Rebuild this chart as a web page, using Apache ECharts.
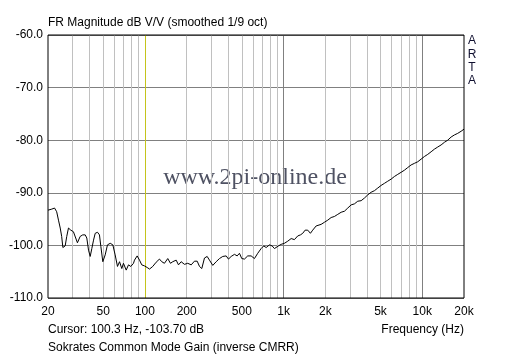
<!DOCTYPE html>
<html>
<head>
<meta charset="utf-8">
<script src="https://cdn.jsdelivr.net/npm/echarts@6/dist/echarts.min.js"></script>
<style>html,body{margin:0;padding:0;background:#fff}#c{width:512px;height:358px}</style>
</head>
<body>
<div id="c"></div>
<script>
const freqHz = [20, 21.3, 22.3, 23.1, 23.8, 24.5, 25.1, 25.6, 26.6, 27.3,
  28.1, 29.2, 30.5, 31.4, 32.6, 34.1, 35.6, 37.1, 38.1, 39.2,
  40.3, 41.4, 42.6, 43.8, 45.5, 47.0, 48.1, 49.7, 51.7, 53.7,
  56.2, 58.7, 61.0, 63.4, 65.6, 68.1, 70.0, 73.3, 76.1, 79.1,
  82.7, 84.1, 87.9, 91.4, 94.9, 99.3, 103.8, 107.9, 113.9, 120.5,
  127.3, 132.3, 138.3, 146.1, 152.8, 158.8, 168.0, 174.6, 182.5, 192.8,
  203.6, 215.6, 227.6, 238.2, 247.5, 257.1, 268.8, 281.1, 292.0, 308.6,
  326.5, 344.9, 364.3, 385.4, 400.4, 418.8, 442.4, 462.6, 480.6, 499.4,
  522.2, 551.4, 583.4, 616.4, 651.1, 688.8, 719.3, 748.7, 790.8, 826.8,
  859.1, 883.8, 918.2, 960.2, 1014, 1071, 1134, 1197, 1265, 1323,
  1374, 1430, 1493, 1561, 1622, 1717, 1865, 1970, 2082, 2202,
  2326, 2458, 2600, 2747, 2902, 3069, 3243, 3426, 3624, 3828,
  4044, 4277, 4519, 4774, 5050, 5336, 5636, 5964, 6300, 6654,
  7040, 7438, 7857, 8312, 8780, 9276, 9813, 10364, 10948, 11584,
  12237, 12927, 13676, 14447, 15259, 16144, 17053, 18012, 19059, 20000];
const magDb = [-93.3, -93.1, -92.9, -93.6, -95.2, -96.7, -98.3, -100.4, -100.1, -98.3,
  -96.7, -97.1, -97.4, -97.7, -99.5, -98.3, -98.0, -98.0, -98.6, -100.9,
  -102.1, -100.6, -99.0, -97.7, -97.5, -98.0, -100.2, -103.1, -101.8, -99.9,
  -99.6, -99.9, -101.8, -104.0, -103.1, -104.4, -103.4, -104.7, -103.7, -104.0,
  -103.4, -102.8, -102.0, -102.8, -103.7, -103.9, -104.2, -104.5, -104.0, -103.2,
  -102.6, -103.1, -103.4, -102.5, -103.4, -103.1, -102.8, -103.7, -103.1, -103.6,
  -103.4, -103.7, -103.0, -103.0, -104.0, -104.4, -102.4, -102.1, -102.8, -103.8,
  -103.1, -102.5, -102.1, -102.0, -102.6, -102.1, -101.7, -102.0, -101.5, -102.5,
  -102.6, -102.0, -102.0, -102.5, -101.5, -100.6, -100.1, -100.4, -99.9, -100.1,
  -100.6, -100.7, -100.1, -99.8, -99.6, -99.2, -98.7, -98.9, -98.2, -98.0,
  -97.7, -97.1, -97.1, -97.7, -97.1, -96.3, -96.0, -95.6, -95.2, -94.7,
  -94.5, -94.1, -93.7, -93.5, -92.9, -92.3, -92.1, -91.6, -91.5, -91.0,
  -90.4, -89.9, -89.6, -89.1, -88.6, -88.2, -87.8, -87.4, -86.9, -86.5,
  -86.1, -85.7, -85.2, -84.7, -84.4, -84.1, -83.6, -83.1, -82.7, -82.2,
  -81.7, -81.3, -80.9, -80.4, -80.0, -79.4, -79.0, -78.7, -78.3, -77.9];
const xTickLabels = [20, 50, 100, 200, 500, 1000, 2000, 5000, 10000, 20000];
const gridFreqs = [30, 40, 50, 60, 70, 80, 90, 100, 200, 300, 400, 500, 600, 700, 800, 900,
  1000, 2000, 3000, 4000, 5000, 6000, 7000, 8000, 9000, 10000];
const majorFreqs = [1000, 10000];
const cursorFreq = 100;
const titleText = 'FR Magnitude dB V/V (smoothed 1/9 oct)';
const cursorText = 'Cursor: 100.3 Hz, -103.70 dB';
const xAxisName = 'Frequency (Hz)';
const footerText = 'Sokrates Common Mode Gain (inverse CMRR)';
const watermark = 'www.2pi-online.de';
const brand = ['A', 'R', 'T', 'A'];

const FONT = '12px "Liberation Sans", Arial, sans-serif';
const chart = echarts.init(document.getElementById('c'), null, {renderer: 'canvas'});

const gridLines = gridFreqs.map(f => ({
  xAxis: f,
  lineStyle: {
    color: f === cursorFreq ? '#c4c41c' : (majorFreqs.includes(f) ? '#808080' : '#c0c0c0'),
    width: 1, type: 'solid'
  }
}));

const graphics = [
  {type: 'text', x: 48, y: 23, style: {text: titleText, font: FONT, fill: '#000', align: 'left', verticalAlign: 'middle'}},
  {type: 'text', x: 48, y: 330, style: {text: cursorText, font: FONT, fill: '#000', align: 'left', verticalAlign: 'middle'}},
  {type: 'text', x: 464, y: 330, style: {text: xAxisName, font: FONT, fill: '#000', align: 'right', verticalAlign: 'middle'}},
  {type: 'text', x: 48, y: 348, style: {text: footerText, font: FONT, fill: '#000', align: 'left', verticalAlign: 'middle'}},
  {type: 'text', x: 255, y: 178, z: 0, style: {text: watermark, font: '24px "Liberation Serif", "Times New Roman", serif', fill: '#4f5263', align: 'center', verticalAlign: 'middle'}}
];
brand.forEach((ch, i) => {
  graphics.push({type: 'text', x: 472, y: 41 + i * 13.3, style: {text: ch, font: FONT, fill: '#101030', align: 'center', verticalAlign: 'middle'}});
});

chart.setOption({
  animation: false,
  backgroundColor: '#fff',
  grid: {left: 48, top: 35, width: 416, height: 263, show: true, borderColor: '#000', borderWidth: 1, backgroundColor: 'transparent', z: 4},
  xAxis: {
    type: 'log', logBase: 10, min: 20, max: 20000,
    axisLine: {show: false}, axisTick: {show: false}, splitLine: {show: false},
    axisLabel: {
      customValues: xTickLabels, margin: 8, color: '#000', fontSize: 12,
      fontFamily: '"Liberation Sans", Arial, sans-serif',
      formatter: v => v >= 1000 ? (v / 1000) + 'k' : String(v)
    }
  },
  yAxis: {
    type: 'value', min: -110, max: -60, interval: 10,
    axisLine: {show: false}, axisTick: {show: false},
    splitLine: {show: true, lineStyle: {color: '#808080', width: 1}},
    axisLabel: {margin: 5, color: '#000', fontSize: 12, fontFamily: '"Liberation Sans", Arial, sans-serif',
      formatter: v => v.toFixed(1)}
  },
  series: [
    {type: 'line', data: [], silent: true, z: 1,
      markLine: {silent: true, symbol: 'none', z: 1, animation: false, label: {show: false}, emphasis: {disabled: true}, data: gridLines}},
    {type: 'line', z: 3, data: freqHz.map((f, i) => [f, magDb[i]]), showSymbol: false, symbol: 'none',
      lineStyle: {color: '#000', width: 1}, silent: true}
  ],
  graphic: graphics
});
</script>
</body>
</html>
